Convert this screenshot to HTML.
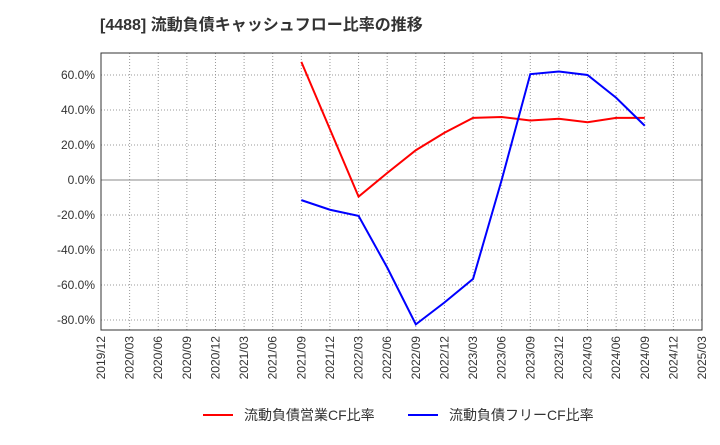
<!DOCTYPE html>
<html><head><meta charset="utf-8"><style>
body{margin:0;background:#fff;font-family:"Liberation Sans","Noto Sans CJK JP",sans-serif}
svg text{font-family:"Liberation Sans","Noto Sans CJK JP",sans-serif}
</style></head><body>
<svg id="c" width="720" height="440" xmlns="http://www.w3.org/2000/svg">
<text x="100" y="30" font-size="16" font-weight="bold" fill="#333">[4488]  流動負債キャッシュフロー比率の推移</text>
<g id="grid"></g><g id="axes"></g><g id="series"></g>
<g>
<line x1="203" y1="415" x2="233" y2="415" stroke="#f00" stroke-width="2"/>
<text x="244" y="420" font-size="14" fill="#333">流動負債営業CF比率</text>
<line x1="408" y1="415" x2="438" y2="415" stroke="#00f" stroke-width="2"/>
<text x="449" y="420" font-size="14" fill="#333">流動負債フリーCF比率</text>
</g>
</svg>
<script>
const categories=["2019/12","2020/03","2020/06","2020/09","2020/12","2021/03","2021/06","2021/09","2021/12","2022/03","2022/06","2022/09","2022/12","2023/03","2023/06","2023/09","2023/12","2024/03","2024/06","2024/09","2024/12","2025/03"];
const yTicks=[60,40,20,0,-20,-40,-60,-80];
const opCF=[null,null,null,null,null,null,null,67.5,29,-9.5,4,17,27,35.5,36,34,35,33,35.5,35.5,null,null];
const freeCF=[null,null,null,null,null,null,null,-11.5,-17,-20.5,-50,-82.5,-70,-56.5,0,60.5,62,60,47,31,null,null];
const L=101,R=702,T=53,B=330;
const x=i=>L+i*(R-L)/(categories.length-1);
const y=v=>180-v*35/20;
const NS="http://www.w3.org/2000/svg";
function mk(t,a,p){const e=document.createElementNS(NS,t);for(const k in a)e.setAttribute(k,a[k]);p.appendChild(e);return e;}
const g=document.getElementById('grid'),ax=document.getElementById('axes'),s=document.getElementById('series');
categories.forEach((c,i)=>{
 const l=mk('line',{x1:x(i),x2:x(i),y1:T,y2:B,stroke:'#999','stroke-dasharray':'1,2'},g);
 
 
 const t=mk('text',{x:0,y:0,'font-size':12,fill:'#333','text-anchor':'end',transform:`translate(${x(i)+4},${B+6}) rotate(-90)`},ax);
 t.textContent=c;
 
 
});
yTicks.forEach(v=>{
 const l=mk('line',{x1:L,x2:R,y1:y(v),y2:y(v),stroke:v===0?'#888':'#999','stroke-dasharray':v===0?'':'1,2'},g);
 
 
 const t=mk('text',{x:L-6,y:y(v)+4,'font-size':12,fill:'#333','text-anchor':'end'},ax);
 t.textContent=v.toFixed(1)+'%';
 
 
});
const fr=mk('rect',{x:L,y:T,width:R-L,height:B-T,fill:'none',stroke:'#333'},ax);


function line(d,col,name){
 const pts=[];d.forEach((v,i)=>{if(v!==null)pts.push(x(i)+','+y(v));});
 const p=mk('polyline',{points:pts.join(' '),fill:'none',stroke:col,'stroke-width':2},s);
 
 
}
line(opCF,'#f00','operating-cf-line');
line(freeCF,'#00f','free-cf-line');
</script>
</body></html>
